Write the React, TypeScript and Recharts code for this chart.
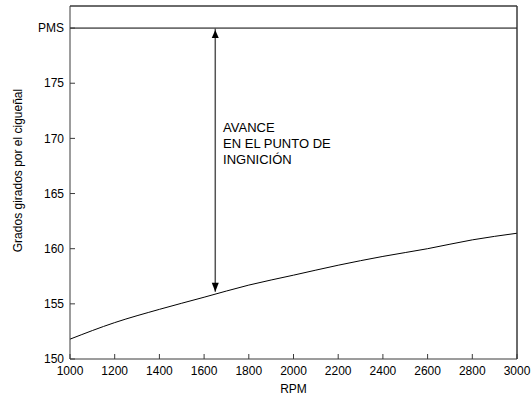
import { LineChart, Line, XAxis, YAxis, ReferenceLine, ReferenceDot } from "recharts";

const rpm = [1000, 1200, 1400, 1600, 1800, 2000, 2200, 2400, 2600, 2800, 3000];
const grados = [151.8, 153.3, 154.5, 155.6, 156.7, 157.6, 158.5, 159.3, 160.0, 160.8, 161.4];

const xTicks = [1000, 1200, 1400, 1600, 1800, 2000, 2200, 2400, 2600, 2800, 3000];
const yTicks = [150, 155, 160, 165, 170, 175, 180];

const PMS = 180;
const X_MAX = 3000;
const Y_MAX = 182;
const arrowRpm = 1650;
const arrowBottom = 156.1;
const noteLines = ["AVANCE", "EN EL PUNTO DE", "INGNICIÓN"];

const data = rpm.map((r, i) => ({ rpm: r, grados: grados[i] }));

const FONT = "'Liberation Sans', Arial, sans-serif";
const AXIS = "#3a3a3a";

function YLabel({ viewBox }: any) {
  const cx = viewBox.x + 18;
  const cy = viewBox.y + viewBox.height / 2 - 12;
  return (
    <text
      x={cx}
      y={cy}
      transform={`rotate(-90 ${cx} ${cy})`}
      textAnchor="middle"
      dominantBaseline="central"
      fontSize={12}
      fontFamily={FONT}
      fill="#000"
    >
      Grados girados por el cigueñal
    </text>
  );
}

function ArrowUp({ cx, cy }: any) {
  return <polygon points={`${cx},${cy + 2} ${cx - 3.5},${cy + 10} ${cx + 3.5},${cy + 10}`} fill="#000" />;
}

function ArrowDown({ cx, cy }: any) {
  return <polygon points={`${cx},${cy} ${cx - 3.5},${cy - 9} ${cx + 3.5},${cy - 9}`} fill="#000" />;
}

function Note({ cx, cy }: any) {
  return (
    <text x={cx} y={cy} fontSize={13} fontFamily={FONT} fill="#000">
      {noteLines.map((l, i) => (
        <tspan key={l} x={cx} dy={i === 0 ? 0 : 16}>
          {l}
        </tspan>
      ))}
    </text>
  );
}

export default function App() {
  const tickStyle = { fontSize: 12, fontFamily: FONT, fill: "#000" };
  return (
    <div style={{ position: "absolute", left: 0, top: 0, width: 531, height: 396, overflow: "hidden", background: "#fff" }}>
      {/* chart is a bit larger than the window so the top/right frame axes get real space */}
      <div style={{ position: "absolute", left: 0, top: -19 }}>
        <LineChart width={550} height={415} data={data} margin={{ top: 5, right: 13, left: 0, bottom: 0 }}>
          <XAxis
            dataKey="rpm"
            type="number"
            domain={[1000, X_MAX]}
            ticks={xTicks}
            height={37}
            tickSize={-5}
            tickMargin={12}
            tick={tickStyle}
            stroke={AXIS}
            label={{ value: "RPM", position: "insideBottom", offset: 3, style: { fontSize: 12, fontFamily: FONT, fill: "#000" } }}
          />
          <XAxis
            xAxisId="top"
            orientation="top"
            dataKey="rpm"
            type="number"
            domain={[1000, X_MAX]}
            ticks={xTicks}
            height={20}
            tickSize={-5}
            tick={false}
            stroke={AXIS}
          />
          <YAxis
            type="number"
            domain={[150, Y_MAX]}
            ticks={yTicks}
            width={70}
            tickSize={-5}
            tickMargin={11}
            tick={tickStyle}
            tickFormatter={(v: number) => (v === PMS ? "PMS" : String(v))}
            stroke={AXIS}
            label={<YLabel />}
          />
          <YAxis
            yAxisId="right"
            orientation="right"
            type="number"
            domain={[150, Y_MAX]}
            ticks={yTicks}
            width={20}
            tickSize={-5}
            tick={false}
            stroke={AXIS}
          />
          <ReferenceLine y={Y_MAX} stroke={AXIS} ifOverflow="visible" />
          <ReferenceLine x={X_MAX} stroke={AXIS} ifOverflow="visible" />
          <ReferenceLine y={PMS} stroke="#000" strokeWidth={1} />
          <ReferenceLine
            segment={[
              { x: arrowRpm, y: arrowBottom },
              { x: arrowRpm, y: PMS },
            ]}
            stroke="#555"
            strokeWidth={1.5}
          />
          <ReferenceDot x={arrowRpm} y={PMS} r={0} shape={<ArrowUp />} />
          <ReferenceDot x={arrowRpm} y={arrowBottom} r={0} shape={<ArrowDown />} />
          <ReferenceDot x={1685} y={170.6} r={0} shape={<Note />} />
          <Line
            dataKey="grados"
            type="monotone"
            stroke="#000"
            strokeWidth={1}
            dot={false}
            isAnimationActive={false}
          />
        </LineChart>
      </div>
    </div>
  );
}
